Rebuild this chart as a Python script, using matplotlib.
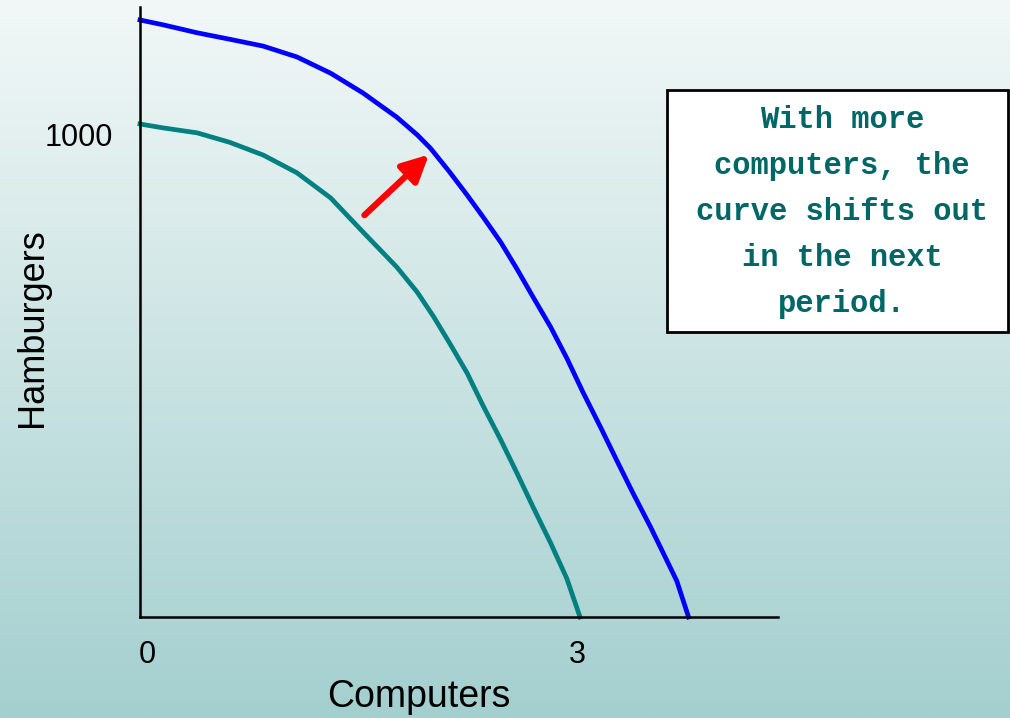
import numpy as np
import matplotlib
matplotlib.use("Agg")
import matplotlib.pyplot as plt
import matplotlib.patches as patches
import matplotlib.transforms as mtransforms

# --- data ---
# old curve (teal)
old_x = [0.0, 0.16, 0.39, 0.61, 0.84, 1.07, 1.30, 1.52, 1.75, 1.89, 2.00, 2.11, 2.23,
         2.34, 2.46, 2.57, 2.68, 2.80, 2.91, 3.0]
old_y = [1000, 992, 982, 963, 937, 901, 850, 781, 710, 659, 610, 556, 495,
         428, 359, 292, 223, 150, 78, 0]

# new curve (blue)
new_x = [0.0, 0.16, 0.39, 0.61, 0.84, 1.07, 1.30, 1.52, 1.75, 1.89, 1.98, 2.11, 2.23,
         2.34, 2.46, 2.57, 2.68, 2.80, 2.91, 3.02, 3.14, 3.25, 3.36, 3.48, 3.59, 3.66, 3.74]
new_y = [1211, 1201, 1185, 1172, 1158, 1136, 1103, 1063, 1014, 978, 951, 903, 856,
         811, 760, 706, 649, 588, 525, 456, 385, 318, 252, 183, 116, 73, 0]

x_ticks = [0, 3]
x_tick_labels = ["0", "3"]
y_ticks = [1000]
y_tick_labels = ["1000"]

arrow_start = (1.53, 815)
arrow_end = (1.97, 938)

note = "With more\ncomputers, the\ncurve shifts out\nin the next\nperiod."

W, H = 1010, 718
fig = plt.figure(figsize=(W / 100, H / 100), dpi=100)

# background gradient
bg = fig.add_axes([0, 0, 1, 1], zorder=-10)
top = np.array([242, 248, 247]) / 255
bot = np.array([164, 207, 207]) / 255
t = np.linspace(0, 1, 256)[:, None]
grad = (top[None, :] * (1 - t) + bot[None, :] * t)[:, None, :]
bg.imshow(grad, aspect="auto", extent=[0, 1, 0, 1])
bg.axis("off")

# main axes in pixel positions
x0, x1 = 140, 778
y0, y1 = 617, 7
ax = fig.add_axes([x0 / W, (H - y0) / H, (x1 - x0) / W, (y0 - y1) / H])
ax.patch.set_alpha(0)
ax.set_xlim(0, (x1 - x0) / 146.67)
ax.set_ylim(0, (y0 - y1) / 0.493)

for s in ["top", "right"]:
    ax.spines[s].set_visible(False)
for s in ["left", "bottom"]:
    ax.spines[s].set_linewidth(1.8)
    ax.spines[s].set_color("black")

ax.plot(old_x, old_y, color="#008080", lw=3.4, solid_joinstyle="round", clip_on=False)
ax.plot(new_x, new_y, color="#0000ff", lw=3.4, solid_joinstyle="round", clip_on=False)

ax.annotate("", xy=arrow_end, xytext=arrow_start,
            arrowprops=dict(arrowstyle="-|>", color="#ff0000", lw=4.5,
                            mutation_scale=40, shrinkA=0, shrinkB=0))

ax.set_xticks(x_ticks)
ax.set_xticklabels(x_tick_labels)
ax.set_yticks(y_ticks)
ax.set_yticklabels(y_tick_labels)
ax.tick_params(length=0, labelsize=22, pad=14)
for lab in ax.get_xticklabels() + ax.get_yticklabels():
    lab.set_fontfamily("Liberation Sans")
# nudge labels like the original
for lab, dx in zip(ax.get_xticklabels(), [7, -3]):
    off = mtransforms.ScaledTranslation(dx / 100, -4 / 100, fig.dpi_scale_trans)
    lab.set_transform(lab.get_transform() + off)
offy = mtransforms.ScaledTranslation(-8 / 100, -11 / 100, fig.dpi_scale_trans)
for lab in ax.get_yticklabels():
    lab.set_transform(lab.get_transform() + offy)

fig.text(419 / W, 1 - 697 / H, "Computers", ha="center", va="center",
         fontsize=27, family="Liberation Sans")
fig.text(33 / W, 1 - 328 / H, "Hamburgers", ha="center", va="center",
         rotation=90, fontsize=26, family="Liberation Sans")

# note box
bx0, bx1, by0, by1 = 667, 1008, 90, 332
rect = patches.Rectangle((bx0 / W, 1 - by1 / H), (bx1 - bx0) / W, (by1 - by0) / H,
                         transform=fig.transFigure, facecolor="white",
                         edgecolor="black", lw=2, zorder=5)
fig.add_artist(rect)
fig.text(842 / W, 1 - 212 / H, note, ha="center", va="center",
         fontsize=22, family="Liberation Mono", weight="bold",
         color="#006666", linespacing=1.7, zorder=6)

fig.savefig("out.png", dpi=100)
